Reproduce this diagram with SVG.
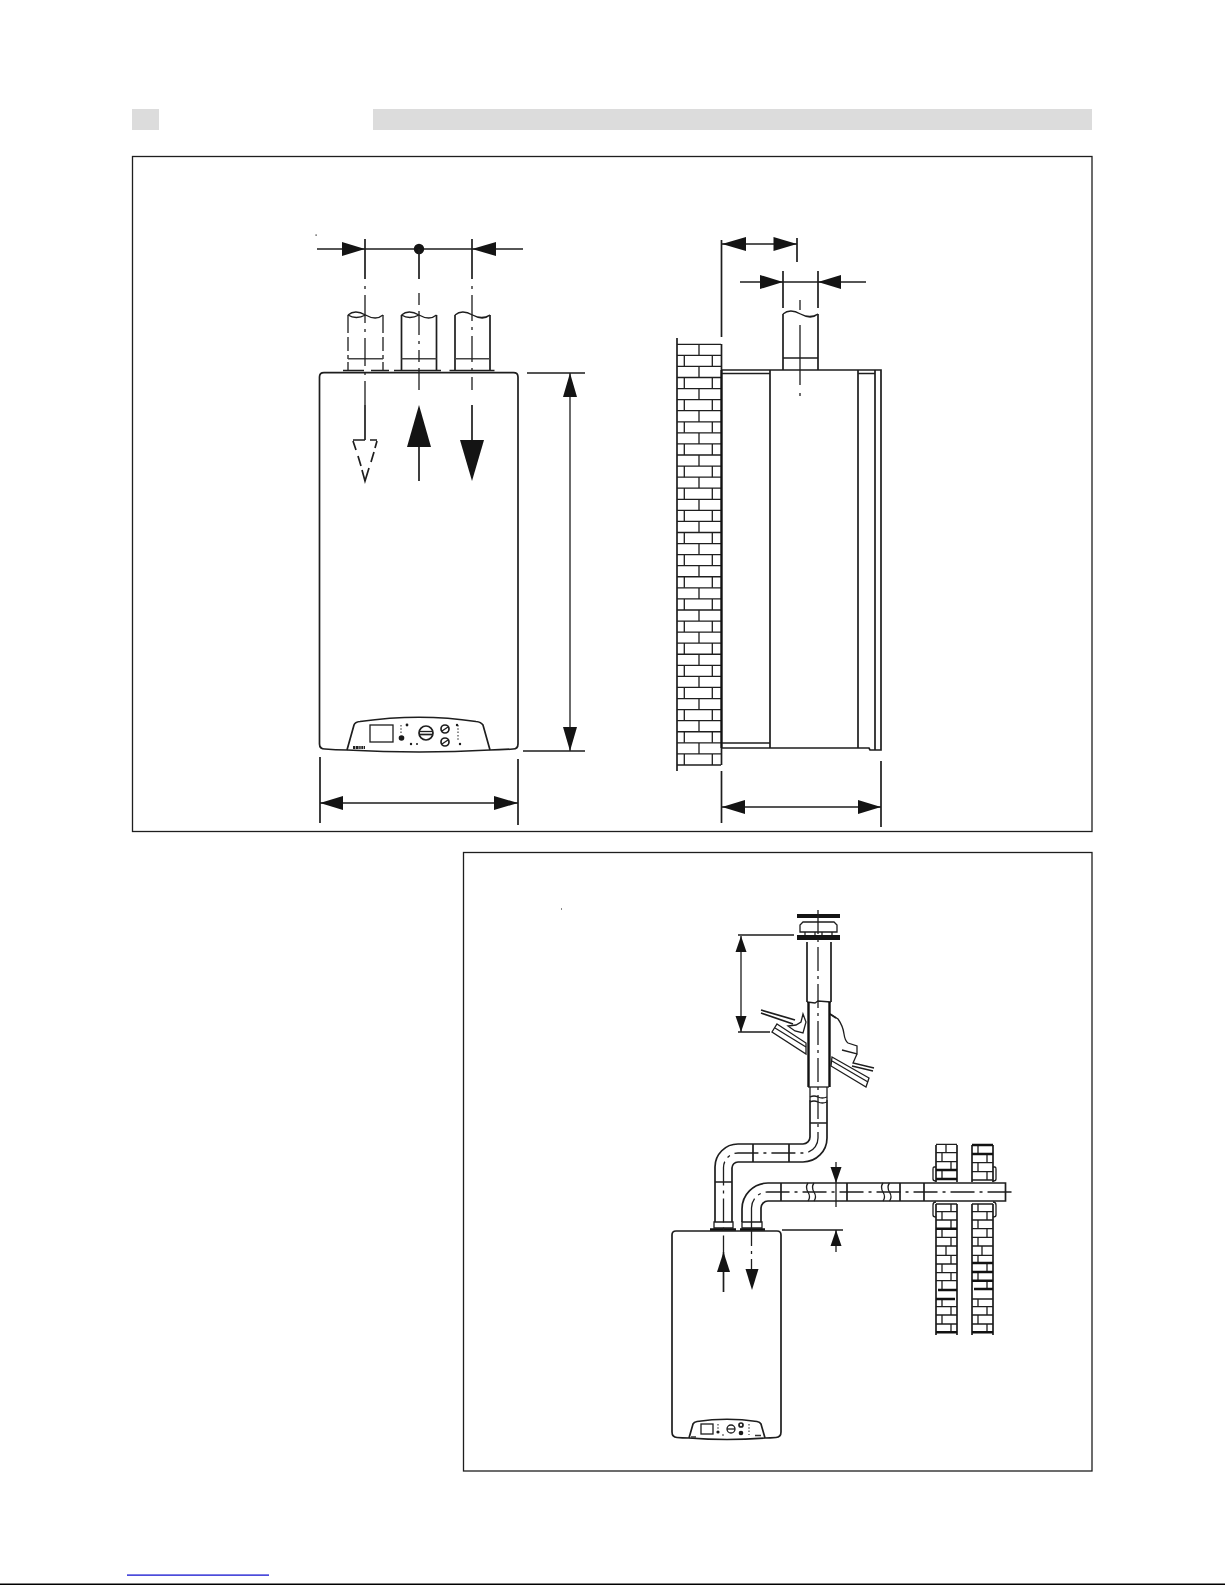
<svg xmlns="http://www.w3.org/2000/svg" xmlns:xlink="http://www.w3.org/1999/xlink" width="1225" height="1585" viewBox="0 0 1225 1585">
<style>
.l{fill:none;stroke:#1e1e1e;stroke-width:1.3}
.t{fill:none;stroke:#1e1e1e;stroke-width:1.7}
.h{fill:none;stroke:#111;stroke-width:2.4}
.w{fill:#fff;stroke:#1e1e1e;stroke-width:1.3}
.a{fill:#141414;stroke:none}
.f{fill:#1a1a1a;stroke:none}
.c{fill:none;stroke:#1e1e1e;stroke-width:1.3;stroke-dasharray:24 5 3 5}
.g{fill:#dcdcdc}
.m{fill:none;stroke:#333;stroke-width:1.1;stroke-dasharray:1.5 1.8}
.r{fill:none;stroke:#444;stroke-width:1.4}
</style>
<defs>
<path id="wl" d="M0 0Q7-6 17.5 0T35 0M0 0Q8 5 17.5 0"/>
<path id="wr" d="M0 0Q7-6 17.5 0T35 0M17.5 0Q27 5 35 0"/>
<path id="bc" d="M677 344.3h44M699 344.3v11.07M677 355.37h44M684.3 355.37v11.07M712.3 355.37v11.07"/>
</defs>
<rect width="1225" height="1585" fill="#fff"/>
<g id="header">
<rect class="g" x="132" y="109" width="27" height="21"/>
<rect class="g" x="373" y="109" width="719" height="21"/>
</g>
<g id="frames">
<rect class="l" x="132.5" y="156.5" width="959.5" height="675"/>
<rect class="l" x="463.5" y="852.5" width="628.5" height="618.5"/>
</g>
<g id="front-boiler">
<path class="t" d="M319.5 377Q319.5 372.7 324 372.7H513.5Q518 372.7 518 377V744Q518 749 513 749Q500 750 490 750Q420 754 347 750Q335 750 325 749Q319.5 749 319.5 744Z"/>
<path class="t" d="M347 750L354 725Q355 722 360 721.5Q420 713 476 721.5Q481 722 483 725L490 750"/>
<rect class="l" x="370" y="725" width="23" height="17"/>
<path class="m" d="M401 725V735M458 725V741"/>
<circle class="f" cx="401.5" cy="738" r="2.8"/>
<circle class="f" cx="407" cy="725" r="1.4"/>
<circle class="f" cx="411" cy="744" r="1.2"/><circle class="f" cx="417" cy="744" r="1"/>
<circle class="f" cx="460" cy="744" r="1.2"/><circle class="f" cx="457" cy="725" r="1.2"/>
<circle class="t" cx="426" cy="733" r="7"/>
<path class="l" d="M419 731.5H433"/><path class="t" d="M419 734.5H433"/>
<circle class="t" cx="445" cy="729" r="4"/><path class="l" d="M442 731L448 727"/>
<circle class="t" cx="445" cy="742" r="4"/><path class="l" d="M442 744L448 740"/>
<path d="M353 747.5H365" fill="none" stroke="#222" stroke-width="3" stroke-dasharray="2 .6 3 .6 1.5 .6"/>
</g>
<g id="front-pipes">
<use xlink:href="#wl" href="#wl" class="l" x="348" y="315"/>
<use xlink:href="#wl" href="#wl" class="l" x="401.5" y="315"/>
<use xlink:href="#wr" href="#wr" class="l" x="455" y="315"/>
<path class="l" d="M348 315V370M383 315V370" stroke-dasharray="18 4 14 4 4 3 8"/>
<path class="t" d="M401.5 315V370M436.5 315V370M455 315V370M490 315V370"/>
<path class="r" d="M348 358.7H383M401.5 358.7H436.5M455 358.7H490"/>
<path class="l" d="M343 370.5H364M371 370.5H389M394 370.5H441M449.5 370.5H494.5"/>
</g>
<g id="side-view">
<g class="l">
<use xlink:href="#bc" href="#bc"/>
<use xlink:href="#bc" href="#bc" y="22.14"/><use xlink:href="#bc" href="#bc" y="44.28"/><use xlink:href="#bc" href="#bc" y="66.42"/>
<use xlink:href="#bc" href="#bc" y="88.56"/><use xlink:href="#bc" href="#bc" y="110.7"/><use xlink:href="#bc" href="#bc" y="132.84"/>
<use xlink:href="#bc" href="#bc" y="154.98"/><use xlink:href="#bc" href="#bc" y="177.12"/><use xlink:href="#bc" href="#bc" y="199.26"/>
<use xlink:href="#bc" href="#bc" y="221.4"/><use xlink:href="#bc" href="#bc" y="243.54"/><use xlink:href="#bc" href="#bc" y="265.68"/>
<use xlink:href="#bc" href="#bc" y="287.82"/><use xlink:href="#bc" href="#bc" y="309.96"/><use xlink:href="#bc" href="#bc" y="332.1"/>
<use xlink:href="#bc" href="#bc" y="354.24"/><use xlink:href="#bc" href="#bc" y="376.38"/><use xlink:href="#bc" href="#bc" y="398.52"/>
<path d="M677 765H721"/>
</g>
<path class="t" d="M677 338V771"/>
<path class="h" d="M721.5 370V748"/>
<path class="t" d="M721.5 344V370M721.5 748V765"/>
<path class="t" d="M722 370H881V750H870L869 748H722M770 370V748M858 370V748M875 370V750"/>
<path class="l" d="M722 373.5H770M858 373.5H875M722 743H770"/>
<use xlink:href="#wr" href="#wr" class="l" x="783" y="314"/>
<path class="t" d="M783 314V370M818 314V370"/>
<path class="l" d="M783 358H818"/>
</g>
<g id="flue-small-boiler">
<path class="t" d="M672 1235Q672 1231 676 1231H777Q781 1231 781 1235V1432Q781 1437 776 1437.5Q770 1438 765 1438Q727 1441 689 1438Q682 1438 677 1437.5Q672 1437 672 1432Z"/>
<path class="t" d="M689 1438L693 1424Q694 1422 697 1421.5Q727 1417 757 1421.5Q760 1422 761 1424L765 1438"/>
<rect class="l" x="701" y="1424" width="12" height="10"/>
<path class="m" d="M718 1424V1429M749 1424V1435"/>
<circle class="f" cx="718" cy="1432" r="1.6"/>
<circle class="f" cx="723" cy="1435" r=".8"/>
<circle class="l" cx="731" cy="1429" r="4"/><path class="l" d="M727 1429H735"/>
<circle class="t" cx="741" cy="1425" r="2"/><circle class="f" cx="741" cy="1433" r="2.3"/>
<path d="M691 1437H696M755 1435.5H761" stroke="#333" stroke-width="1.5"/>
</g>
<g id="flue-pipes">
<path class="t" d="M715 1222V1167A23 23 0 0 1 738 1144H803A7 7 0 0 0 810 1137V1100M732 1222V1168A6 6 0 0 1 738 1162H803A24 24 0 0 0 827 1138V1100"/>
<path class="t" d="M715 1182H732M753 1144V1162M789 1144V1162M810 1123H827"/>
<path class="l" d="M714 1222H733V1228H714ZM742 1222H762V1228H742Z"/>
<path class="h" d="M710 1229.5H736M740 1229.5H765"/>
<path class="t" d="M742 1222V1209A26 26 0 0 1 768 1183H1005.5V1201H768A7 7 0 0 0 761 1208V1222"/>
<path class="t" d="M781 1183V1201M847 1183V1201M900 1183V1201M924 1183V1201"/>
<path class="l" d="M808 1183q-3 4 0 9t0 9M814 1183q-3 4 0 9t0 9M883 1183q-3 4 0 9t0 9M889.5 1183q-3 4 0 9t0 9"/>
<path class="l" d="M810 1097q4-2 8 0t9 0M810 1102q4-2 8 0t9 0"/>
</g>
<g id="flue-roof">
<path class="t" d="M761 1010L795 1020M761 1013L793 1024"/>
<path class="w" d="M777 1024L806 1043V1054L772 1032Z"/>
<path class="l" d="M775 1028L806 1047"/>
<path class="w" d="M832 1057L869 1078L866 1087L831 1066Z"/>
<path class="l" d="M832 1061L868 1082"/>
<path class="l" d="M830 1014L838 1019Q843 1026 844 1034Q845 1041 848 1043L857 1046V1054L842 1050M857 1054L853 1063L874 1068M852 1066L873 1071"/>
<path class="t" d="M830 1014L836 1018"/>
<path class="w" d="M803 1014L801 1022L796 1025L788 1026L795 1031L803 1033L806 1022Z"/>
<path class="t" d="M807 942V1002M831 942V1002"/>
<path class="l" d="M807 1002L815 1003L818 1001L831 1002"/>
<path class="h" d="M808.5 1002V1087M829.5 1002V1087"/>
<path class="l" d="M808 1087H829"/>
<path class="l" d="M810 1087V1100M827 1087V1100"/>
<path class="a" d="M797 914H840V918H797ZM797 935H840V940H797Z"/>
<path class="l" d="M803 922H834L837 925V932H800V925Z"/>
<path class="l" d="M805 932V935M832 932V935M815 932V935M822 932V935"/>
</g>
<g id="flue-walls">
<path class="t" d="M936 1145V1182M957 1145V1182M972 1145V1182M993 1145V1182M936 1204V1335M957 1204V1335M972 1204V1335M993 1204V1335"/>
<path class="l" d="M936 1144.3H957M936 1152.7H957M936 1161.7H957M946 1144.3V1152.7M942 1152.7V1161.7M951 1161.7V1170M942 1170V1179"/>
<path class="l" d="M936 1204H957M936 1211.7H957M936 1220H957M936 1237.3H957M936 1246H957M936 1255.3H957M936 1264H957M936 1272.7H957M936 1280.7H957M936 1306.7H957M936 1315H957M936 1324H957"/>
<path class="l" d="M951 1204V1211.7M942 1211.7V1220M951 1220V1228.7M942 1228.7V1237.3M951 1237.3V1246M946 1246V1255.3M951 1255.3V1264M942 1264V1272.7M951 1272.7V1280.7M942 1280.7V1290M942 1299V1306.7M951 1306.7V1315M942 1315V1324M951 1324V1332.3"/>
<path class="h" d="M936 1170H957M936 1179H957M936 1228.7H957M938 1290H957M936 1299H955M936 1332.3H957" stroke-width="1.8"/>
<path class="l" d="M972 1162.7H993M972 1171.7H993M972 1180H993M972 1204H993M972 1211.7H993M972 1220H993M972 1228.7H993M972 1237.3H993M972 1246H993M972 1255.3H993M972 1299H993M972 1306.7H993M972 1315H993M972 1324H993"/>
<path class="l" d="M978 1145V1154M987 1154V1162.7M978 1162.7V1171.7M987 1171.7V1180M978 1204V1211.7M987 1211.7V1220M978 1220V1228.7M987 1228.7V1237.3M978 1237.3V1246M982 1246V1255.3M978 1255.3V1263M987 1263V1272M978 1272V1280.7M987 1280.7V1289M978 1299V1306.7M987 1306.7V1315M978 1315V1324M987 1324V1332.3"/>
<path class="h" d="M972 1145H993M972 1154H993M972 1263H993M972 1272H993M972 1280.7H993M974 1289H993M972 1332.3H993" stroke-width="1.8"/>
<path class="l" d="M936 1167H934Q933 1167 933 1169V1179Q933 1181 936 1181M936 1202Q933 1202 933 1205V1215Q933 1217 936 1217M993 1167H995Q996 1167 996 1169V1179Q996 1181 993 1181M993 1202Q996 1202 996 1205V1215Q996 1217 993 1217"/>
</g>
<g id="connectors">
<path class="l" d="M317 249H523"/>
<polygon class="a" points="365,249 342,242 342,256"/>
<polygon class="a" points="472,249 496,242 496,256"/>
<circle class="a" cx="419" cy="249" r="5.2"/>
<path class="t" d="M365 239V279M419 249V279M472 239V279"/>
<path class="l" d="M365 286V405" stroke-dasharray="3 6 28 6"/>
<path class="l" d="M419 293V390" stroke-dasharray="12 6 24 6 3 6"/>
<path class="l" d="M472 286V390" stroke-dasharray="3 6 26 6"/>
<path class="t" d="M365 405V440M419 447V481M472 405V440"/>
<polygon class="a" points="419,405 407,447 431,447"/>
<polygon class="a" points="472,481 460,440 484,440"/>
<path class="t" d="M353 440H365M370 440H377M353 441L356 450M358 456L361 466M362 470L365 481L369 468M371 462L374 452M375 448L377 441"/>
<path class="l" d="M527 373H585M523 751H585M570 373V751"/>
<polygon class="a" points="570,373 563,397 577,397"/>
<polygon class="a" points="570,751 563,727 577,727"/>
<path class="t" d="M320 757V823M518 759V825M320 803H518"/>
<polygon class="a" points="320,803 343,796 343,810"/>
<polygon class="a" points="518,803 494,796 494,810"/>
<path class="t" d="M721.5 240V337M797 238V262M722 244H797M783 271V308M818 271V308"/>
<polygon class="a" points="722,244 746,237 746,251"/>
<polygon class="a" points="797,244 773.5,237 773.5,251"/>
<path class="l" d="M740 282H866"/>
<polygon class="a" points="783,282 760,275 760,289"/>
<polygon class="a" points="818,282 841,275 841,289"/>
<path class="l" d="M800 300V310M800 325V385M800 393V396"/>
<path class="t" d="M721.5 771V823M881 761V827M722 807H881"/>
<polygon class="a" points="722,807 745,800 745,814"/>
<polygon class="a" points="881,807 858,800 858,814"/>
<path class="c" d="M818 910V1138A15 15 0 0 1 803 1153H738A14.5 14.5 0 0 0 723.5 1167.5V1252"/>
<path class="t" d="M723.5 1252V1292"/>
<polygon class="a" points="723.5,1252 717,1272 730,1272"/>
<path class="c" d="M751.5 1222V1208A16 16 0 0 1 767.5 1192H1015"/>
<path class="c" d="M751.5 1222V1269"/>
<polygon class="a" points="752,1290 745.5,1269 758.5,1269"/>
<path class="l" d="M738 935H794M738 1032H770M741 936V1032"/>
<polygon class="a" points="741,936 735.5,952 746.5,952"/>
<polygon class="a" points="741,1032 735.5,1016 746.5,1016"/>
<path class="l" d="M836 1162V1207M782 1230H843M836 1230V1252"/>
<polygon class="a" points="836,1183 830.5,1167 841.5,1167"/>
<polygon class="a" points="836,1230 830.5,1246 841.5,1246"/>
</g>
<g id="specks">
<rect class="a" x="315.5" y="234.5" width="1.2" height="1.2"/>
<rect class="a" x="561" y="908.5" width="1" height="1"/>
</g>
<g id="footer">
<rect x="127" y="1574.5" width="142" height="1.2" fill="#0000cc"/>
<rect x="0" y="1583.5" width="1225" height="1.5" fill="#000"/>
</g>
</svg>
